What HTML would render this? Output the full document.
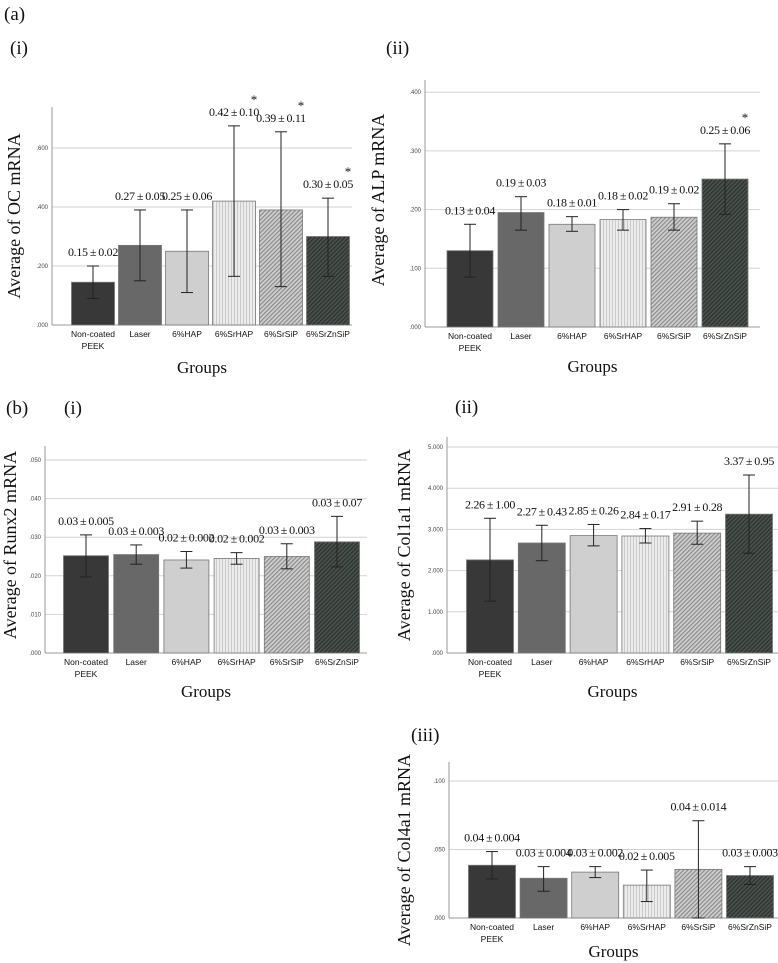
<!DOCTYPE html>
<html><head><meta charset="utf-8">
<style>
html,body{margin:0;padding:0;background:#fff;}
svg{display:block;}
.serif{font-family:"Liberation Serif",serif;}
.sans{font-family:"Liberation Sans Narrow","Liberation Sans",sans-serif;}
</style></head>
<body>
<svg id="fig" width="778" height="963" viewBox="0 0 778 963" xmlns="http://www.w3.org/2000/svg">
<defs>
<pattern id="pStripe" width="3" height="3" patternUnits="userSpaceOnUse"><rect width="3" height="3" fill="#ececec"/><rect width="1" height="3" fill="#c9c9c9"/></pattern>
<pattern id="pHatch" width="3" height="3" patternUnits="userSpaceOnUse" patternTransform="rotate(45)"><rect width="3" height="3" fill="#d0d0d0"/><rect width="1.2" height="3" fill="#8a8a8a"/></pattern>
<pattern id="pDark" width="3" height="3" patternUnits="userSpaceOnUse" patternTransform="rotate(45)"><rect width="3" height="3" fill="#4a524e"/><rect width="1.2" height="3" fill="#2a302d"/></pattern>
</defs>
<g class="serif" font-size="19" fill="#111">
<text x="4" y="20">(a)</text>
<text x="10" y="54">(i)</text>
<text x="386" y="54">(ii)</text>
<text x="6" y="414">(b)</text>
<text x="64" y="414">(i)</text>
<text x="455" y="413">(ii)</text>
<text x="411" y="741">(iii)</text>
</g>
</svg>
<script>
const categories = ["Non-coated PEEK","Laser","6%HAP","6%SrHAP","6%SrSiP","6%SrZnSiP"];
const ocValues = [0.145,0.27,0.25,0.42,0.39,0.30];
const ocLow = [0.09,0.15,0.11,0.165,0.13,0.165];
const ocHigh = [0.20,0.39,0.39,0.675,0.655,0.43];
const ocText = ["0.15 ± 0.02","0.27 ± 0.05","0.25 ± 0.06","0.42 ± 0.10","0.39 ± 0.11","0.30 ± 0.05"];
const ocStar = [false,false,false,true,true,true];
const ocTicks = [0,0.2,0.4,0.6];
const ocTickText = [".000",".200",".400",".600"];

const alpValues = [0.13,0.195,0.175,0.183,0.187,0.252];
const alpLow = [0.085,0.165,0.163,0.165,0.165,0.192];
const alpHigh = [0.175,0.222,0.188,0.2,0.21,0.312];
const alpText = ["0.13 ± 0.04","0.19 ± 0.03","0.18 ± 0.01","0.18 ± 0.02","0.19 ± 0.02","0.25 ± 0.06"];
const alpStar = [false,false,false,false,false,true];
const alpTicks = [0,0.1,0.2,0.3,0.4];
const alpTickText = [".000",".100",".200",".300",".400"];

const runxValues = [0.0252,0.0255,0.0241,0.0245,0.025,0.0288];
const runxLow = [0.0197,0.023,0.022,0.023,0.0218,0.0223];
const runxHigh = [0.0306,0.028,0.0263,0.026,0.0283,0.0354];
const runxText = ["0.03 ± 0.005","0.03 ± 0.003","0.02 ± 0.002","0.02 ± 0.002","0.03 ± 0.003","0.03 ± 0.07"];
const runxTicks = [0,0.01,0.02,0.03,0.04,0.05];
const runxTickText = [".000",".010",".020",".030",".040",".050"];

const col1Values = [2.26,2.67,2.85,2.84,2.91,3.37];
const col1Low = [1.26,2.24,2.6,2.67,2.64,2.42];
const col1High = [3.27,3.1,3.12,3.02,3.2,4.32];
const col1Text = ["2.26 ± 1.00","2.27 ± 0.43","2.85 ± 0.26","2.84 ± 0.17","2.91 ± 0.28","3.37 ± 0.95"];
const col1Ticks = [0,1,2,3,4,5];
const col1TickText = [".000","1.000","2.000","3.000","4.000","5.000"];

const col4Values = [0.0385,0.029,0.0335,0.024,0.0355,0.031];
const col4Low = [0.0285,0.0195,0.0295,0.012,0.0,0.0245];
const col4High = [0.0485,0.0375,0.0375,0.035,0.071,0.0375];
const col4Text = ["0.04 ± 0.004","0.03 ± 0.004","0.03 ± 0.002","0.02 ± 0.005","0.04 ± 0.014","0.03 ± 0.003"];
const col4Ticks = [0,0.05,0.1];
const col4TickText = [".000",".050",".100"];

const fills = ["#383838","#686868","#cfcfcf","url(#pStripe)","url(#pHatch)","url(#pDark)"];
const NS = "http://www.w3.org/2000/svg";
const svg = document.getElementById("fig");
function mk(tag, attrs, parent){const e=document.createElementNS(NS,tag);for(const k in attrs)e.setAttribute(k,attrs[k]);(parent||svg).appendChild(e);return e;}

function chart(p, values, low, high, texts, stars, ticks, tickText){
  const g = mk("g",{});
  
  
  const y = v => p.base - v * p.pxPerUnit;
  const x = i => p.x0 + p.step * i;
  ticks.forEach((t,i)=>{
    if(t>0){const gl=mk("line",{x1:p.left,x2:p.right,y1:y(t),y2:y(t),stroke:"#d2d2d2","stroke-width":1},g);
      
      }
    const tt=mk("text",{x:p.left-4,y:y(t)+2,"text-anchor":"end","font-size":6,fill:"#444",class:"sans"},g);
    tt.textContent=tickText[i];
    
    
  });
  const ax=mk("line",{x1:p.left,x2:p.left,y1:p.top,y2:p.base,stroke:"#999","stroke-width":1},g);
  
  
  const bx=mk("line",{x1:p.left,x2:p.right,y1:p.base,y2:p.base,stroke:"#999","stroke-width":1},g);
  
  
  values.forEach((v,i)=>{
    const cx=x(i);
    const r=mk("rect",{x:cx-p.bw/2,y:y(v),width:p.bw,height:p.base-y(v),fill:fills[i],stroke:"#777","stroke-width":0.8},g);
    
    
    const eg=mk("g",{stroke:"#222","stroke-width":1},g);
    
    
    mk("line",{x1:cx,x2:cx,y1:y(low[i]),y2:y(high[i])},eg);
    mk("line",{x1:cx-6,x2:cx+6,y1:y(low[i]),y2:y(low[i])},eg);
    mk("line",{x1:cx-6,x2:cx+6,y1:y(high[i]),y2:y(high[i])},eg);
    const lt=mk("text",{x:cx,y:y(high[i])-10,"text-anchor":"middle","font-size":12,fill:"#111",class:"serif","letter-spacing":"-0.3"},g);
    lt.textContent=texts[i].replace(/ ± /,"\u2009±\u2009");
    
    
    if(stars && stars[i]){
      const st=mk("text",{x:cx+20,y:y(high[i])-22,"text-anchor":"middle","font-size":13,fill:"#111",class:"serif"},g);
      st.textContent="*";
      
      
    }
    const parts=categories[i].split(" ");
    const cl=mk("text",{x:cx,y:p.base+12,"text-anchor":"middle","font-size":8.5,fill:"#111",class:"sans"},g);
    
    
    if(parts[0]==="Non-coated"){
      cl.textContent="Non-coated";
      const c2=mk("text",{x:cx,y:p.base+24,"text-anchor":"middle","font-size":8.5,fill:"#111",class:"sans"},g);
      c2.textContent="PEEK";
      
      
    } else cl.textContent=categories[i];
  });
  const xt=mk("text",{x:(p.left+p.right)/2,y:p.groupsY,"text-anchor":"middle","font-size":17,fill:"#111",class:"serif"},g);
  xt.textContent="Groups";
  
  
  const yt=mk("text",{x:0,y:0,"text-anchor":"middle","font-size":18,fill:"#111",class:"serif",transform:`translate(${p.ytX},${p.ytY}) rotate(-90)`},g);
  yt.textContent=p.ytitle;
  
  
}

chart({name:"oc-chart",left:52,right:352,top:107,base:325,pxPerUnit:295,x0:93,step:47,bw:43,groupsY:373,ytX:20,ytY:216,ytitle:"Average of OC mRNA"},ocValues,ocLow,ocHigh,ocText,ocStar,ocTicks,ocTickText);
chart({name:"alp-chart",left:425,right:760,top:80,base:327,pxPerUnit:587,x0:470,step:51,bw:46,groupsY:372,ytX:384,ytY:200,ytitle:"Average of ALP mRNA"},alpValues,alpLow,alpHigh,alpText,alpStar,alpTicks,alpTickText);
chart({name:"runx2-chart",left:45,right:367,top:446,base:653,pxPerUnit:3860,x0:86,step:50.2,bw:45,groupsY:697,ytX:16,ytY:545,ytitle:"Average of Runx2 mRNA"},runxValues,runxLow,runxHigh,runxText,null,runxTicks,runxTickText);
chart({name:"col1a1-chart",left:447,right:778,top:437,base:653,pxPerUnit:41.2,x0:490,step:51.8,bw:47,groupsY:697,ytX:410,ytY:545,ytitle:"Average of Col1a1 mRNA"},col1Values,col1Low,col1High,col1Text,null,col1Ticks,col1TickText);
chart({name:"col4a1-chart",left:449,right:778,top:762,base:918,pxPerUnit:1370,x0:492,step:51.6,bw:47,groupsY:957,ytX:410,ytY:850,ytitle:"Average of Col4a1 mRNA"},col4Values,col4Low,col4High,col4Text,null,col4Ticks,col4TickText);
</script>
</body></html>
